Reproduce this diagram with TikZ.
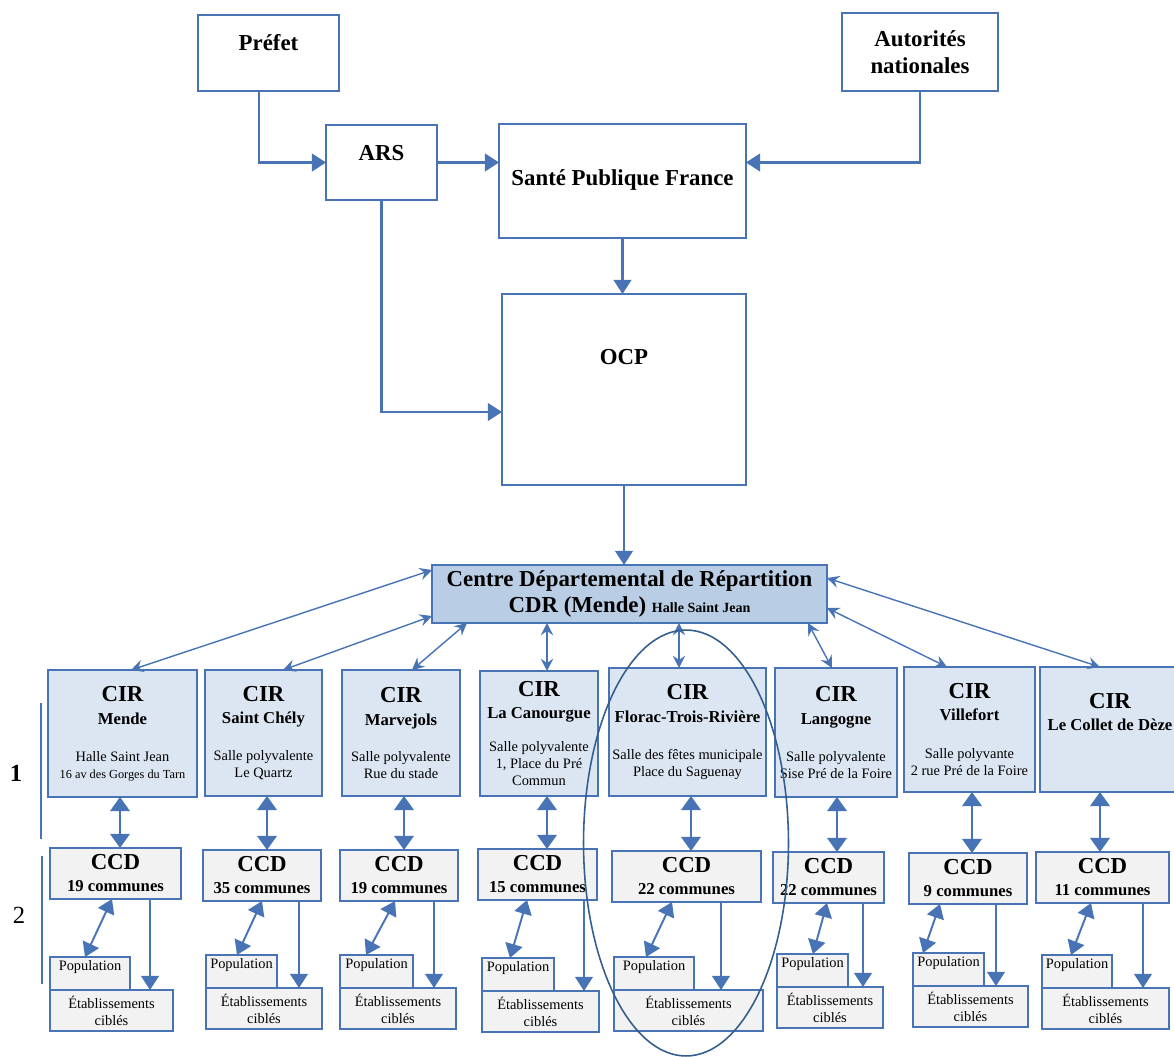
\documentclass[tikz,border=0pt]{standalone}
\usepackage{fontspec}
\setmainfont{Liberation Serif}
\usetikzlibrary{arrows.meta}
\definecolor{lineblue}{RGB}{72,116,182}
\definecolor{cirfill}{RGB}{220,230,242}
\definecolor{cdrfill}{RGB}{185,205,229}
\definecolor{ccdfill}{RGB}{242,242,242}
\definecolor{ovalblue}{RGB}{52,94,142}
\newcommand{\headfont}{\fontsize{13}{14}\selectfont}
\newcommand{\adrfont}{\mdseries\fontsize{8.2}{9}\selectfont}

\begin{document}
\begin{tikzpicture}[x=0.02cm,y=-0.02cm,
    box/.style={draw=lineblue,line width=1pt,fill=white,inner sep=1pt,outer sep=0pt,align=center,
      font=\bfseries\fontsize{13}{15.3}\selectfont},
    cirbox/.style={box,fill=cirfill,anchor=north west,font=\bfseries\fontsize{9.5}{9.6}\selectfont},
    ccdbox/.style={box,fill=ccdfill,anchor=north west,minimum height=1.02cm,font=\bfseries\fontsize{9.5}{9.6}\selectfont},
    etabbox/.style={box,fill=ccdfill,anchor=north west,minimum height=0.82cm,font=\fontsize{8.2}{9.6}\selectfont},
    popbox/.style={box,fill=ccdfill,anchor=south west,minimum height=0.66cm,text height=6pt,text depth=9.4pt,
      font=\fontsize{8.2}{9.6}\selectfont},
    flowarrow/.style={draw=lineblue,line width=1.2pt,-{Triangle[length=8pt,width=10pt]}},
    twoway/.style={draw=lineblue,line width=1.4pt,{Triangle[length=8pt,width=11pt]}-{Triangle[length=8pt,width=11pt]}},
    slant/.style={draw=lineblue,line width=1.1pt,{Triangle[length=8pt,width=10pt]}-{Triangle[length=8pt,width=10pt]}},
    cdrlink/.style={draw=lineblue,line width=0.8pt,{Stealth[length=7pt,width=7pt,inset=2.5pt]}-{Stealth[length=7pt,width=7pt,inset=2.5pt]}}]

        \useasboundingbox (0,0) rectangle (1174,1057);
        \fill[white] (0,0) rectangle (1174,1057);

        % top of the chain
        \node[box,minimum width=2.82cm,minimum height=1.52cm,text height=9pt,text depth=11.8pt] (prefet) at (268.5,53) {Préfet};
        \node[box,minimum width=3.12cm,minimum height=1.56cm] (aut) at (920,52) {Autorités\\nationales};
        \node[box,minimum width=2.22cm,minimum height=1.5cm,text height=9pt,text depth=11.2pt] (ars) at (381.5,162.5) {ARS};
        \node[box,minimum width=4.94cm,minimum height=2.28cm,text height=9pt,text depth=3.8pt] (spf) at (622.5,181) {Santé Publique France};
        \node[box,minimum width=4.88cm,minimum height=3.82cm,text height=9pt,text depth=37.2pt] (ocp) at (624,389.5) {OCP};
        \node[box,fill=cdrfill,minimum width=7.9cm,minimum height=1.16cm] (cdr) at (629.5,594)
            {Centre Départemental de Répartition\\CDR (Mende) {\fontsize{8}{9}\selectfont Halle Saint Jean}};

        \draw[flowarrow] (259,0 |- prefet.south) |- (ars.west);
        \draw[flowarrow] (ars.east) -- (ars.east -| spf.west);
        \draw[flowarrow] (aut.south) |- (spf.east |- ars.east);
        \draw[flowarrow] (spf.south) -- (spf.south |- ocp.north);
        \draw[flowarrow] (ars.south) |- (ocp.west |- 0,412);
        \draw[flowarrow] (ocp.south) -- (ocp.south |- cdr.north);

        % CIR
        \node[cirbox,minimum width=2.98cm,minimum height=2.54cm] (cir1) at (48,670)
            {{\headfont CIR}\\[3.4pt]Mende\\[11.4pt]{\adrfont Halle Saint Jean}\\{\adrfont\fontsize{7}{8}\selectfont 16 av des Gorges du Tarn}};
        \node[cirbox,minimum width=2.34cm,minimum height=2.52cm] (cir2) at (205,670)
            {{\headfont CIR}\\[3.4pt]Saint Chély\\[11.4pt]{\adrfont Salle polyvalente}\\{\adrfont Le Quartz}};
        \node[cirbox,minimum width=2.36cm,minimum height=2.52cm] (cir3) at (342,670)
            {{\headfont CIR}\\[3.4pt]Marvejols\\[11.4pt]{\adrfont Salle polyvalente}\\{\adrfont Rue du stade}};
        \node[cirbox,minimum width=2.36cm,minimum height=2.5cm] (cir4) at (480,671)
            {{\headfont CIR}\\[2.9pt]La Canourgue\\[9.1pt]{\adrfont Salle polyvalente}\\{\adrfont 1, Place du Pré}\\{\adrfont Commun}};
        \node[cirbox,minimum width=3.14cm,minimum height=2.56cm] (cir5) at (609,668)
            {{\headfont CIR}\\[3.4pt]Florac-Trois-Rivière\\[11.4pt]{\adrfont Salle des fêtes municipale}\\{\adrfont Place du Saguenay}};
        \node[cirbox,minimum width=2.44cm,minimum height=2.58cm] (cir6) at (775,668)
            {{\headfont CIR}\\[3.4pt]Langogne\\[11.4pt]{\adrfont Salle polyvalente}\\{\adrfont Sise Pré de la Foire}};
        \node[cirbox,minimum width=2.62cm,minimum height=2.5cm] (cir7) at (904,667)
            {{\headfont CIR}\\[3.4pt]Villefort\\[12pt]{\adrfont Salle polyvante}\\{\adrfont 2 rue Pré de la Foire}};
        \node[cirbox,minimum width=2.8cm,minimum height=2.5cm] (cir8) at (1040,667)
            {{\headfont CIR}\\[3pt]Le Collet de Dèze\\[10.4pt]\mbox{}};

        \draw[cdrlink] (cdr.west |- 0,570) -- (131,0 |- cir1.north);
        \draw[cdrlink] (cdr.west |- 0,616) -- (283,0 |- cir2.north);
        \draw[cdrlink] (467,0 |- cdr.south) -- (412,0 |- cir3.north);
        \draw[cdrlink] (547,0 |- cdr.south) -- (547,0 |- cir4.north);
        \draw[cdrlink] (679,0 |- cdr.south) -- (679,0 |- cir5.north);
        \draw[cdrlink] (808,0 |- cdr.south) -- (832,0 |- cir6.north);
        \draw[cdrlink] (cdr.east |- 0,608) -- (947,0 |- cir7.north);
        \draw[cdrlink] (cdr.east |- 0,578) -- (1100,0 |- cir8.north);

        % CCD, population, etablissements
        \foreach \i/\cl/\ct/\cw/\el/\et/\ew/\pw/\n in {
            1/50/848/131/50/990/123/80/19,
            2/203/850/118/206/988/116/71/35,
            3/340/850/118/340/988/116/73/19,
            4/478/849/119/482/991/117/72/15,
            5/612/851/149/614/990/149/80/22,
            6/773/852/111/777/987/106/71/22,
            7/909/853/118/913/986/115/71/9,
            8/1036/852/133/1042/988/127/70/11}
        {
            \node[ccdbox,minimum width=\cw*0.02cm] (ccd\i) at (\cl,\ct) {{\headfont CCD}\\[2.9pt]\n\ communes};
            \node[etabbox,minimum width=\ew*0.02cm] (etab\i) at (\el,\et) {Établissements\\ciblés};
            \node[popbox,minimum width=\pw*0.02cm] (pop\i) at (etab\i.north west) {Population};
        }

        \foreach \i/\ax/\da/\db/\ex in {1/120/112/85/150, 2/267/262/237/299, 3/404/395/366/434,
            4/547/527/510/584, 5/691/672/646/721, 6/837/827/813/863, 7/972/940/923/996, 8/1100/1091/1071/1143}
        {
            \draw[twoway] (\ax,0 |- cir\i.south) -- (\ax,0 |- ccd\i.north);
            \draw[slant] (\da,0 |- ccd\i.south) -- (\db,0 |- pop\i.north);
            \draw[flowarrow] (\ex,0 |- ccd\i.south) -- (\ex,0 |- etab\i.north);
        }

        % levels
        \draw[lineblue,line width=0.8pt] (41,703) -- (41,839);
        \draw[lineblue,line width=0.8pt] (42,856) -- (42,984);
        \node[font=\bfseries\fontsize{14}{16}\selectfont] (lvlone) at (16,773) {1};
        \node[font=\fontsize{14}{16}\selectfont] (lvltwo) at (19,915) {2};

        \draw[ovalblue,line width=0.9pt] (686,843) ellipse [x radius=2.05cm,y radius=4.26cm];

\end{tikzpicture}
\end{document}
